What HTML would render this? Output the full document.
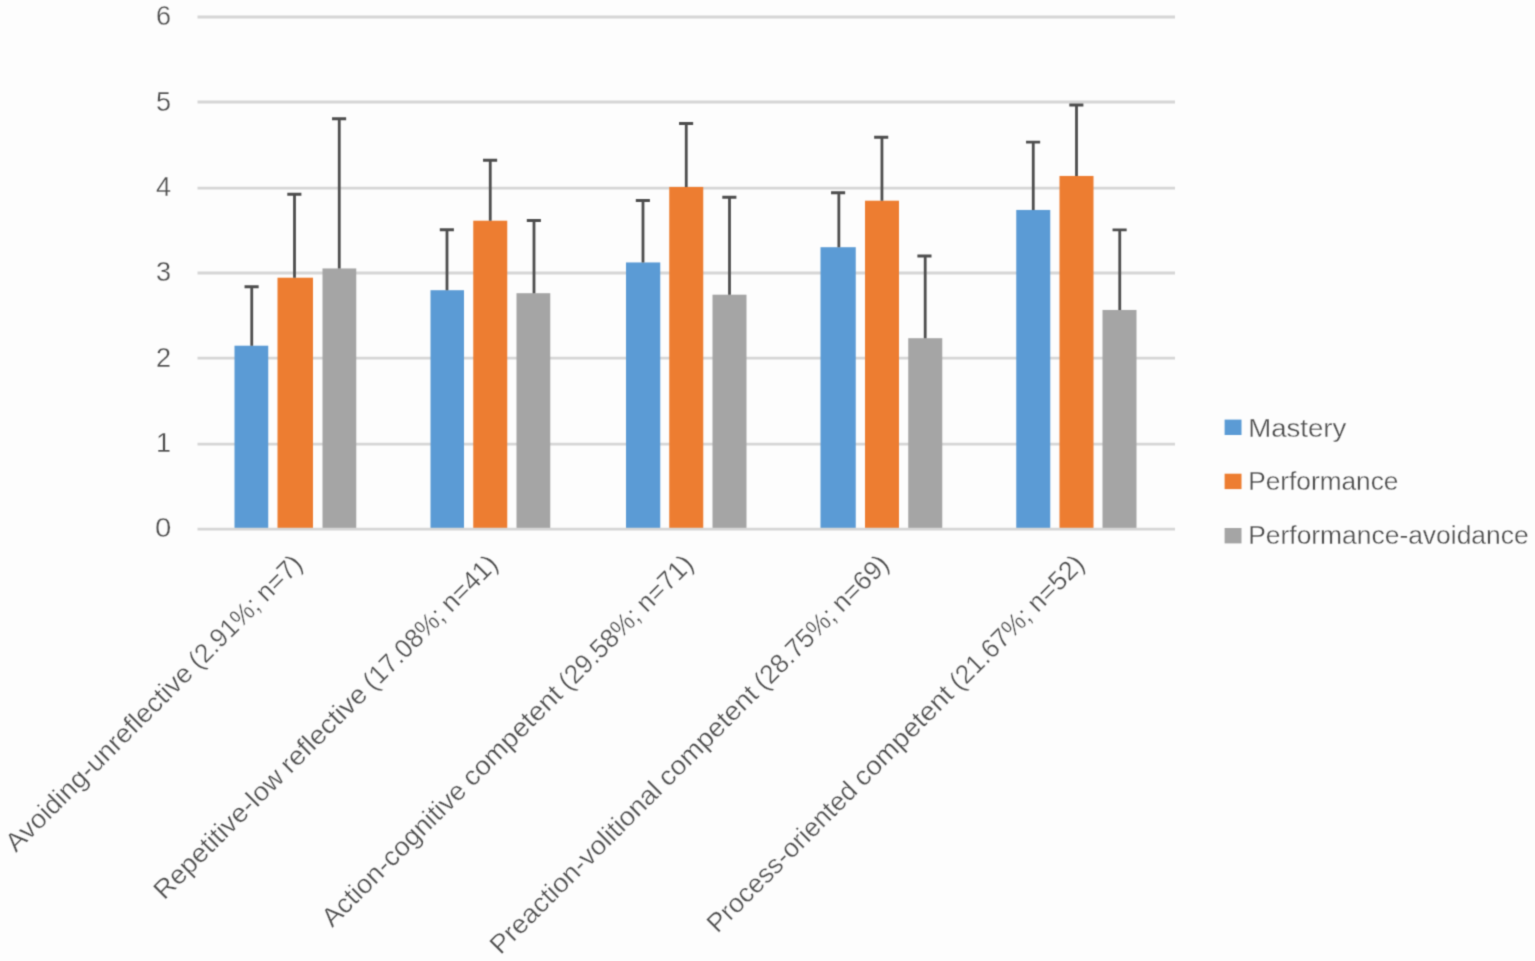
<!DOCTYPE html>
<html lang="en">
<head>
<meta charset="utf-8">
<title>Goal orientation by profile</title>
<style>
html,body{margin:0;padding:0;background:#fdfdfd;}
body{width:1535px;height:961px;overflow:hidden;}
svg{display:block;}
text{font-family:"Liberation Sans",sans-serif;font-size:26.5px;fill:#4f4f4f;stroke:#fdfdfd;stroke-width:0.3px;}
</style>
</head>
<body>
<svg width="1535" height="961" viewBox="0 0 1535 961">
<defs><filter id="soft" filterUnits="userSpaceOnUse" x="0" y="0" width="1535" height="961" color-interpolation-filters="sRGB"><feConvolveMatrix order="3" kernelMatrix="1 4 1 4 16 4 1 4 1" edgeMode="duplicate" preserveAlpha="true"/></filter></defs>
<g filter="url(#soft)">
<rect x="0" y="0" width="1535" height="961" fill="#fdfdfd"/>
<g stroke="#d6d6d6" stroke-width="2.8" fill="none">
<line x1="197.5" y1="17" x2="1175" y2="17"/>
<line x1="197.5" y1="102" x2="1175" y2="102"/>
<line x1="197.5" y1="188.2" x2="1175" y2="188.2"/>
<line x1="197.5" y1="273.0" x2="1175" y2="273.0"/>
<line x1="197.5" y1="358.1" x2="1175" y2="358.1"/>
<line x1="197.5" y1="444.2" x2="1175" y2="444.2"/>
</g>
<g>
<rect x="234.5" y="345.7" width="33.75" height="182.3" fill="#5b9bd5"/>
<rect x="277.5" y="277.7" width="35.5" height="250.3" fill="#ed7d31"/>
<rect x="322.5" y="268.45" width="33.75" height="259.55" fill="#a5a5a5"/>
<rect x="430.5" y="290.2" width="33.5" height="237.8" fill="#5b9bd5"/>
<rect x="473.25" y="220.7" width="34.0" height="307.3" fill="#ed7d31"/>
<rect x="516.5" y="293.2" width="33.75" height="234.8" fill="#a5a5a5"/>
<rect x="626" y="262.45" width="34.25" height="265.55" fill="#5b9bd5"/>
<rect x="669.25" y="186.95" width="34.0" height="341.05" fill="#ed7d31"/>
<rect x="712.5" y="294.7" width="34.0" height="233.3" fill="#a5a5a5"/>
<rect x="820.5" y="247.2" width="35.25" height="280.8" fill="#5b9bd5"/>
<rect x="865" y="200.7" width="34" height="327.3" fill="#ed7d31"/>
<rect x="908.25" y="338.2" width="34.0" height="189.8" fill="#a5a5a5"/>
<rect x="1016.25" y="209.95" width="34.0" height="318.05" fill="#5b9bd5"/>
<rect x="1059.5" y="175.95" width="34.0" height="352.05" fill="#ed7d31"/>
<rect x="1102.5" y="309.95" width="34.0" height="218.05" fill="#a5a5a5"/>
</g>
<line x1="197.5" y1="529.1" x2="1175" y2="529.1" stroke="#d6d6d6" stroke-width="2.8"/>
<g stroke="#4e4e4e" stroke-width="2.8" fill="none">
<path d="M251.75 345.8 V286.75 M244.55 286.75 H258.65"/>
<path d="M294.5 277.8 V194.25 M287.3 194.25 H301.4"/>
<path d="M339.25 268.55 V118.75 M332.05 118.75 H346.15"/>
<path d="M447 290.3 V229.75 M439.8 229.75 H453.9"/>
<path d="M490.25 220.8 V160.25 M483.05 160.25 H497.15"/>
<path d="M534 293.3 V220.5 M526.8 220.5 H540.9"/>
<path d="M643 262.55 V200.5 M635.8 200.5 H649.9"/>
<path d="M686.25 187.05 V123.5 M679.05 123.5 H693.15"/>
<path d="M729.5 294.8 V197.25 M722.3 197.25 H736.4"/>
<path d="M838.85 247.3 V192.75 M831.05 192.75 H845.15"/>
<path d="M881.95 200.8 V137.25 M874.15 137.25 H888.25"/>
<path d="M925.2 338.3 V256 M917.4 256 H931.5"/>
<path d="M1033.25 210.05 V142.15 M1026.05 142.15 H1040.15"/>
<path d="M1076.5 176.05 V105.0 M1069.3 105.0 H1083.4"/>
<path d="M1119.75 310.05 V229.9 M1112.55 229.9 H1126.65"/>
</g>
<g text-anchor="end">
<text x="171.2" y="24.5" style="font-size:27.1px">6</text>
<text x="171.2" y="110.9" style="font-size:27.1px">5</text>
<text x="171.2" y="195.8" style="font-size:27.1px">4</text>
<text x="171.2" y="281.2" style="font-size:27.1px">3</text>
<text x="171.2" y="367.0" style="font-size:27.1px">2</text>
<text x="171.2" y="452.4" style="font-size:27.1px">1</text>
<text x="171.2" y="537.0" style="font-size:27.1px" textLength="16.3" lengthAdjust="spacingAndGlyphs">0</text>
</g>
<g>
<text transform="translate(303.9 565.5) rotate(-45)"><tspan x="-407" textLength="252.23" lengthAdjust="spacingAndGlyphs">Avoiding-unreflective</tspan> <tspan x="-148.23" textLength="88.59" lengthAdjust="spacingAndGlyphs">(2.91%;</tspan> <tspan x="-53.09" textLength="53.09" lengthAdjust="spacingAndGlyphs">n=7)</tspan></text>
<text transform="translate(499.4 565.5) rotate(-45)"><tspan x="-474" textLength="171.92" lengthAdjust="spacingAndGlyphs">Repetitive-low</tspan> <tspan x="-295.51" textLength="110.84" lengthAdjust="spacingAndGlyphs">reflective</tspan> <tspan x="-178.11" textLength="103.58" lengthAdjust="spacingAndGlyphs">(17.08%;</tspan> <tspan x="-67.97" textLength="67.97" lengthAdjust="spacingAndGlyphs">n=41)</tspan></text>
<text transform="translate(694.9 565.5) rotate(-45)"><tspan x="-513" textLength="192.08" lengthAdjust="spacingAndGlyphs">Action-cognitive</tspan> <tspan x="-314.36" textLength="129.69" lengthAdjust="spacingAndGlyphs">competent</tspan> <tspan x="-178.11" textLength="103.58" lengthAdjust="spacingAndGlyphs">(29.58%;</tspan> <tspan x="-67.97" textLength="67.97" lengthAdjust="spacingAndGlyphs">n=71)</tspan></text>
<text transform="translate(890.4 565.5) rotate(-45)"><tspan x="-551.5" textLength="230.75" lengthAdjust="spacingAndGlyphs">Preaction-volitional</tspan> <tspan x="-314.18" textLength="129.62" lengthAdjust="spacingAndGlyphs">competent</tspan> <tspan x="-178.01" textLength="103.52" lengthAdjust="spacingAndGlyphs">(28.75%;</tspan> <tspan x="-67.93" textLength="67.93" lengthAdjust="spacingAndGlyphs">n=69)</tspan></text>
<text transform="translate(1085.9 565.5) rotate(-45)"><tspan x="-521" textLength="200.07" lengthAdjust="spacingAndGlyphs">Process-oriented</tspan> <tspan x="-314.37" textLength="129.69" lengthAdjust="spacingAndGlyphs">competent</tspan> <tspan x="-178.11" textLength="103.58" lengthAdjust="spacingAndGlyphs">(21.67%;</tspan> <tspan x="-67.97" textLength="67.97" lengthAdjust="spacingAndGlyphs">n=52)</tspan></text>
</g>
<g>
<rect x="1224.6" y="419.6" width="16.9" height="15.4" fill="#5b9bd5"/>
<text x="1248.2" y="436.5" textLength="98.2" lengthAdjust="spacingAndGlyphs">Mastery</text>
<rect x="1224.6" y="473.7" width="16.9" height="15.4" fill="#ed7d31"/>
<text x="1248.2" y="490.3" textLength="150.2" lengthAdjust="spacingAndGlyphs">Performance</text>
<rect x="1224.6" y="528" width="16.9" height="15.4" fill="#a5a5a5"/>
<text x="1248.2" y="544.4" textLength="280.4" lengthAdjust="spacingAndGlyphs">Performance-avoidance</text>
</g>
</g>
</svg>
</body>
</html>
